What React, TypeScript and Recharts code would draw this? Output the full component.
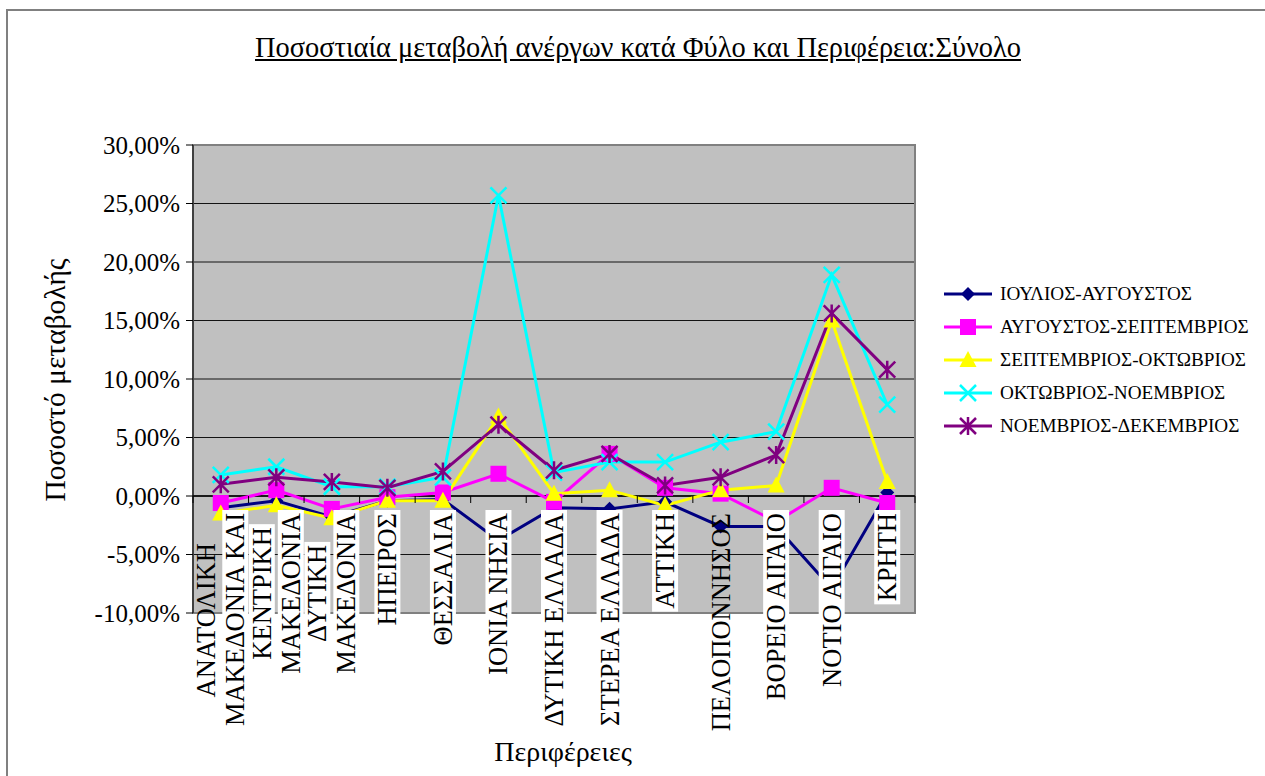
import React from "react";
import {
  CartesianGrid,
  Line,
  LineChart,
  ReferenceArea,
  ReferenceLine,
  XAxis,
  YAxis,
} from "recharts";

const REGIONS = [
  "ΑΝΑΤΟΛΙΚΗ ΜΑΚΕΔΟΝΙΑ ΚΑΙ ΘΡΑΚΗ",
  "ΚΕΝΤΡΙΚΗ ΜΑΚΕΔΟΝΙΑ",
  "ΔΥΤΙΚΗ ΜΑΚΕΔΟΝΙΑ",
  "ΗΠΕΙΡΟΣ",
  "ΘΕΣΣΑΛΙΑ",
  "ΙΟΝΙΑ ΝΗΣΙΑ",
  "ΔΥΤΙΚΗ ΕΛΛΑΔΑ",
  "ΣΤΕΡΕΑ ΕΛΛΑΔΑ",
  "ΑΤΤΙΚΗ",
  "ΠΕΛΟΠΟΝΝΗΣΟΣ",
  "ΒΟΡΕΙΟ ΑΙΓΑΙΟ",
  "ΝΟΤΙΟ ΑΙΓΑΙΟ",
  "ΚΡΗΤΗ",
];

// how the category labels wrap in the picture (the first one is cut off)
const REGION_LINES = [
  ["ΑΝΑΤΟΛΙΚΗ", "ΜΑΚΕΔΟΝΙΑ ΚΑΙ"],
  ["ΚΕΝΤΡΙΚΗ", "ΜΑΚΕΔΟΝΙΑ"],
  ["ΔΥΤΙΚΗ", "ΜΑΚΕΔΟΝΙΑ"],
  ["ΗΠΕΙΡΟΣ"],
  ["ΘΕΣΣΑΛΙΑ"],
  ["ΙΟΝΙΑ ΝΗΣΙΑ"],
  ["ΔΥΤΙΚΗ ΕΛΛΑΔΑ"],
  ["ΣΤΕΡΕΑ ΕΛΛΑΔΑ"],
  ["ΑΤΤΙΚΗ"],
  ["ΠΕΛΟΠΟΝΝΗΣΟΣ"],
  ["ΒΟΡΕΙΟ ΑΙΓΑΙΟ"],
  ["ΝΟΤΙΟ ΑΙΓΑΙΟ"],
  ["ΚΡΗΤΗ"],
];

const JUL_AUG = [-1.0, -0.4, -1.8, -0.4, -0.3, -3.8, -1.0, -1.1, -0.5, -2.6, -2.6, -7.9, 0.3];
const AUG_SEP = [-0.6, 0.5, -1.1, -0.1, 0.3, 1.9, -0.5, 3.6, 0.7, 0.2, -2.2, 0.7, -0.6];
const SEP_OCT = [-1.5, -0.8, -1.9, -0.4, -0.4, 6.8, 0.2, 0.5, -0.8, 0.5, 0.9, 15.0, 1.2];
const OCT_NOV = [1.8, 2.5, 0.8, 0.8, 1.6, 25.7, 2.0, 2.9, 2.9, 4.6, 5.5, 18.9, 7.8];
const NOV_DEC = [1.0, 1.6, 1.2, 0.7, 2.1, 6.1, 2.2, 3.6, 0.9, 1.6, 3.5, 15.6, 10.8];

const Y_TICKS = [-10, -5, 0, 5, 10, 15, 20, 25, 30];

const SERIES = [
  { key: "julAug", name: "ΙΟΥΛΙΟΣ-ΑΥΓΟΥΣΤΟΣ", color: "#000080", shape: "diamond", values: JUL_AUG },
  { key: "augSep", name: "ΑΥΓΟΥΣΤΟΣ-ΣΕΠΤΕΜΒΡΙΟΣ", color: "#FF00FF", shape: "square", values: AUG_SEP },
  { key: "sepOct", name: "ΣΕΠΤΕΜΒΡΙΟΣ-ΟΚΤΩΒΡΙΟΣ", color: "#FFFF00", shape: "triangle", values: SEP_OCT },
  { key: "octNov", name: "ΟΚΤΩΒΡΙΟΣ-ΝΟΕΜΒΡΙΟΣ", color: "#00FFFF", shape: "cross", values: OCT_NOV },
  { key: "novDec", name: "ΝΟΕΜΒΡΙΟΣ-ΔΕΚΕΜΒΡΙΟΣ", color: "#800080", shape: "star", values: NOV_DEC },
];

const data = REGIONS.map((region, i) => {
  const row: Record<string, string | number> = { region };
  SERIES.forEach((s) => (row[s.key] = s.values[i]));
  return row;
});

const W = 1265;
const H = 776;
const FONT = "'Liberation Serif', 'Times New Roman', serif";
const PLOT_LEFT = 193;
const PLOT_TOP = 145;
const PLOT_RIGHT = 915;
const PLOT_BOTTOM = 613;
const Y_MIN = Y_TICKS[0];
const Y_MAX = Y_TICKS[Y_TICKS.length - 1];
const ZERO_Y = PLOT_TOP + ((PLOT_BOTTOM - PLOT_TOP) * Y_MAX) / (Y_MAX - Y_MIN);
const BAND = (PLOT_RIGHT - PLOT_LEFT) / REGIONS.length;
const XLABEL_SIZE = 26.5;

const fmt = (v: number) => v.toFixed(2).replace(".", ",") + "%";

let ctx: CanvasRenderingContext2D | null = null;
const measure = (t: string) => {
  if (!ctx) ctx = document.createElement("canvas").getContext("2d");
  if (!ctx) return t.length * XLABEL_SIZE * 0.65;
  ctx.font = `${XLABEL_SIZE}px 'Liberation Serif'`;
  return ctx.measureText(t).width;
};

const Marker = ({ cx, cy, shape, color }: { cx: number; cy: number; shape: string; color: string }) => {
  if (shape === "diamond")
    return <polygon points={`${cx},${cy - 7} ${cx + 7},${cy} ${cx},${cy + 7} ${cx - 7},${cy}`} fill={color} />;
  if (shape === "square") return <rect x={cx - 8} y={cy - 8} width={16} height={16} fill={color} />;
  if (shape === "triangle")
    return <polygon points={`${cx},${cy - 9} ${cx + 8.5},${cy + 7} ${cx - 8.5},${cy + 7}`} fill={color} />;
  const r = 8;
  const d = `M${cx - r},${cy - r}L${cx + r},${cy + r}M${cx - r},${cy + r}L${cx + r},${cy - r}`;
  return <path d={shape === "star" ? d + `M${cx},${cy - r - 1}L${cx},${cy + r + 1}` : d} stroke={color} strokeWidth={2.5} fill="none" />;
};

const RegionTick = (props: any) => {
  const { x, index } = props;
  const lines = REGION_LINES[index];
  const widths = lines.map(measure);
  const maxW = Math.max(...widths);
  const top = ZERO_Y + 17;
  const gap = 29;
  const left = x - BAND / 2;
  return (
    <g>
      <line x1={left} y1={ZERO_Y} x2={left} y2={ZERO_Y + 7} stroke="#000" />
      {index === REGIONS.length - 1 && (
        <line x1={left + BAND} y1={ZERO_Y} x2={left + BAND} y2={ZERO_Y + 7} stroke="#000" />
      )}
      {lines.map((t, i) => {
        const lx = x + (i - (lines.length - 1) / 2) * gap;
        const end = top + (maxW - widths[i]) / 2;
        // the first line of the first label and Peloponnese have no white box in the picture
        const boxed = !(index === 0 && i === 0) && index !== 9;
        return (
          <g key={i}>
            {boxed && <rect x={lx - 13} y={end - 3} width={26} height={widths[i] + 6} fill="#fff" />}
            <text
              x={lx + 9}
              y={end}
              transform={`rotate(-90, ${lx + 9}, ${end})`}
              textAnchor="end"
              fontSize={XLABEL_SIZE}
              fontFamily={FONT}
              fill="#000"
            >
              {t}
            </text>
          </g>
        );
      })}
    </g>
  );
};

const LegendBox = () => (
  <div style={{ fontFamily: FONT, fontSize: 19.2, color: "#000" }}>
    {SERIES.map((s) => (
      <div key={s.key} style={{ display: "flex", alignItems: "center", height: 33 }}>
        <svg width={56} height={20}>
          <line x1={4} y1={10} x2={52} y2={10} stroke={s.color} strokeWidth={3} />
          <Marker cx={28} cy={10} shape={s.shape} color={s.color} />
        </svg>
        <span style={{ marginLeft: 4, whiteSpace: "nowrap" }}>{s.name}</span>
      </div>
    ))}
  </div>
);

export default function App() {
  return (
    <div style={{ position: "absolute", left: 0, top: 0, width: W, height: H, background: "#fff", overflow: "hidden" }}>
      <div
        style={{
          position: "absolute",
          left: 6,
          top: 9,
          width: W,
          height: H,
          borderLeft: "2px solid #808080",
          borderTop: "2px solid #808080",
        }}
      />
      <div
        style={{
          position: "absolute",
          left: 0,
          width: 1276,
          top: 32,
          textAlign: "center",
          fontFamily: FONT,
          fontSize: 28.4,
          textDecoration: "underline",
        }}
      >
        Ποσοστιαία μεταβολή ανέργων κατά Φύλο και Περιφέρεια:Σύνολο
      </div>
      <div
        style={{
          position: "absolute",
          left: 55,
          top: 380,
          transform: "translate(-50%, -50%) rotate(-90deg)",
          whiteSpace: "nowrap",
          fontFamily: FONT,
          fontSize: 29.5,
        }}
      >
        Ποσοστό μεταβολής
      </div>
      <div
        style={{
          position: "absolute",
          left: 563,
          top: 752,
          transform: "translate(-50%, -50%)",
          whiteSpace: "nowrap",
          fontFamily: FONT,
          fontSize: 28,
        }}
      >
        Περιφέρειες
      </div>
      <div style={{ position: "absolute", left: 0, top: 0 }}>
        <LineChart
          width={W}
          height={H}
          data={data}
          margin={{ top: PLOT_TOP, right: W - PLOT_RIGHT, bottom: H - PLOT_BOTTOM - 1, left: PLOT_LEFT - 120 }}
        >
          <CartesianGrid horizontal vertical={false} fill="#C0C0C0" stroke="#000" strokeOpacity={0.9} />
          <ReferenceArea y1={Y_MIN} y2={Y_MAX} fill="none" stroke="#808080" strokeWidth={2} />
          <YAxis
            width={120}
            domain={[Y_MIN, Y_MAX]}
            ticks={Y_TICKS}
            tickFormatter={fmt}
            tickSize={7}
            tickMargin={6}
            axisLine={{ stroke: "#000" }}
            tickLine={{ stroke: "#000" }}
            tick={{ fill: "#000", fontSize: 25, fontFamily: FONT }}
            allowDataOverflow
          />
          <ReferenceLine y={0} stroke="#000" strokeWidth={1.5} />
          {SERIES.map((s) => (
            <Line
              key={s.key}
              dataKey={s.key}
              name={s.name}
              stroke={s.color}
              strokeWidth={3}
              isAnimationActive={false}
              dot={(p: any) => <Marker key={p.index} cx={p.cx} cy={p.cy} shape={s.shape} color={s.color} />}
              activeDot={false}
            />
          ))}
          <XAxis
            dataKey="region"
            scale="band"
            height={1}
            axisLine={false}
            tickLine={false}
            interval={0}
            tick={<RegionTick />}
          />
        </LineChart>
      </div>
      <div style={{ position: "absolute", left: 940, top: 277 }}>
        <LegendBox />
      </div>
    </div>
  );
}
